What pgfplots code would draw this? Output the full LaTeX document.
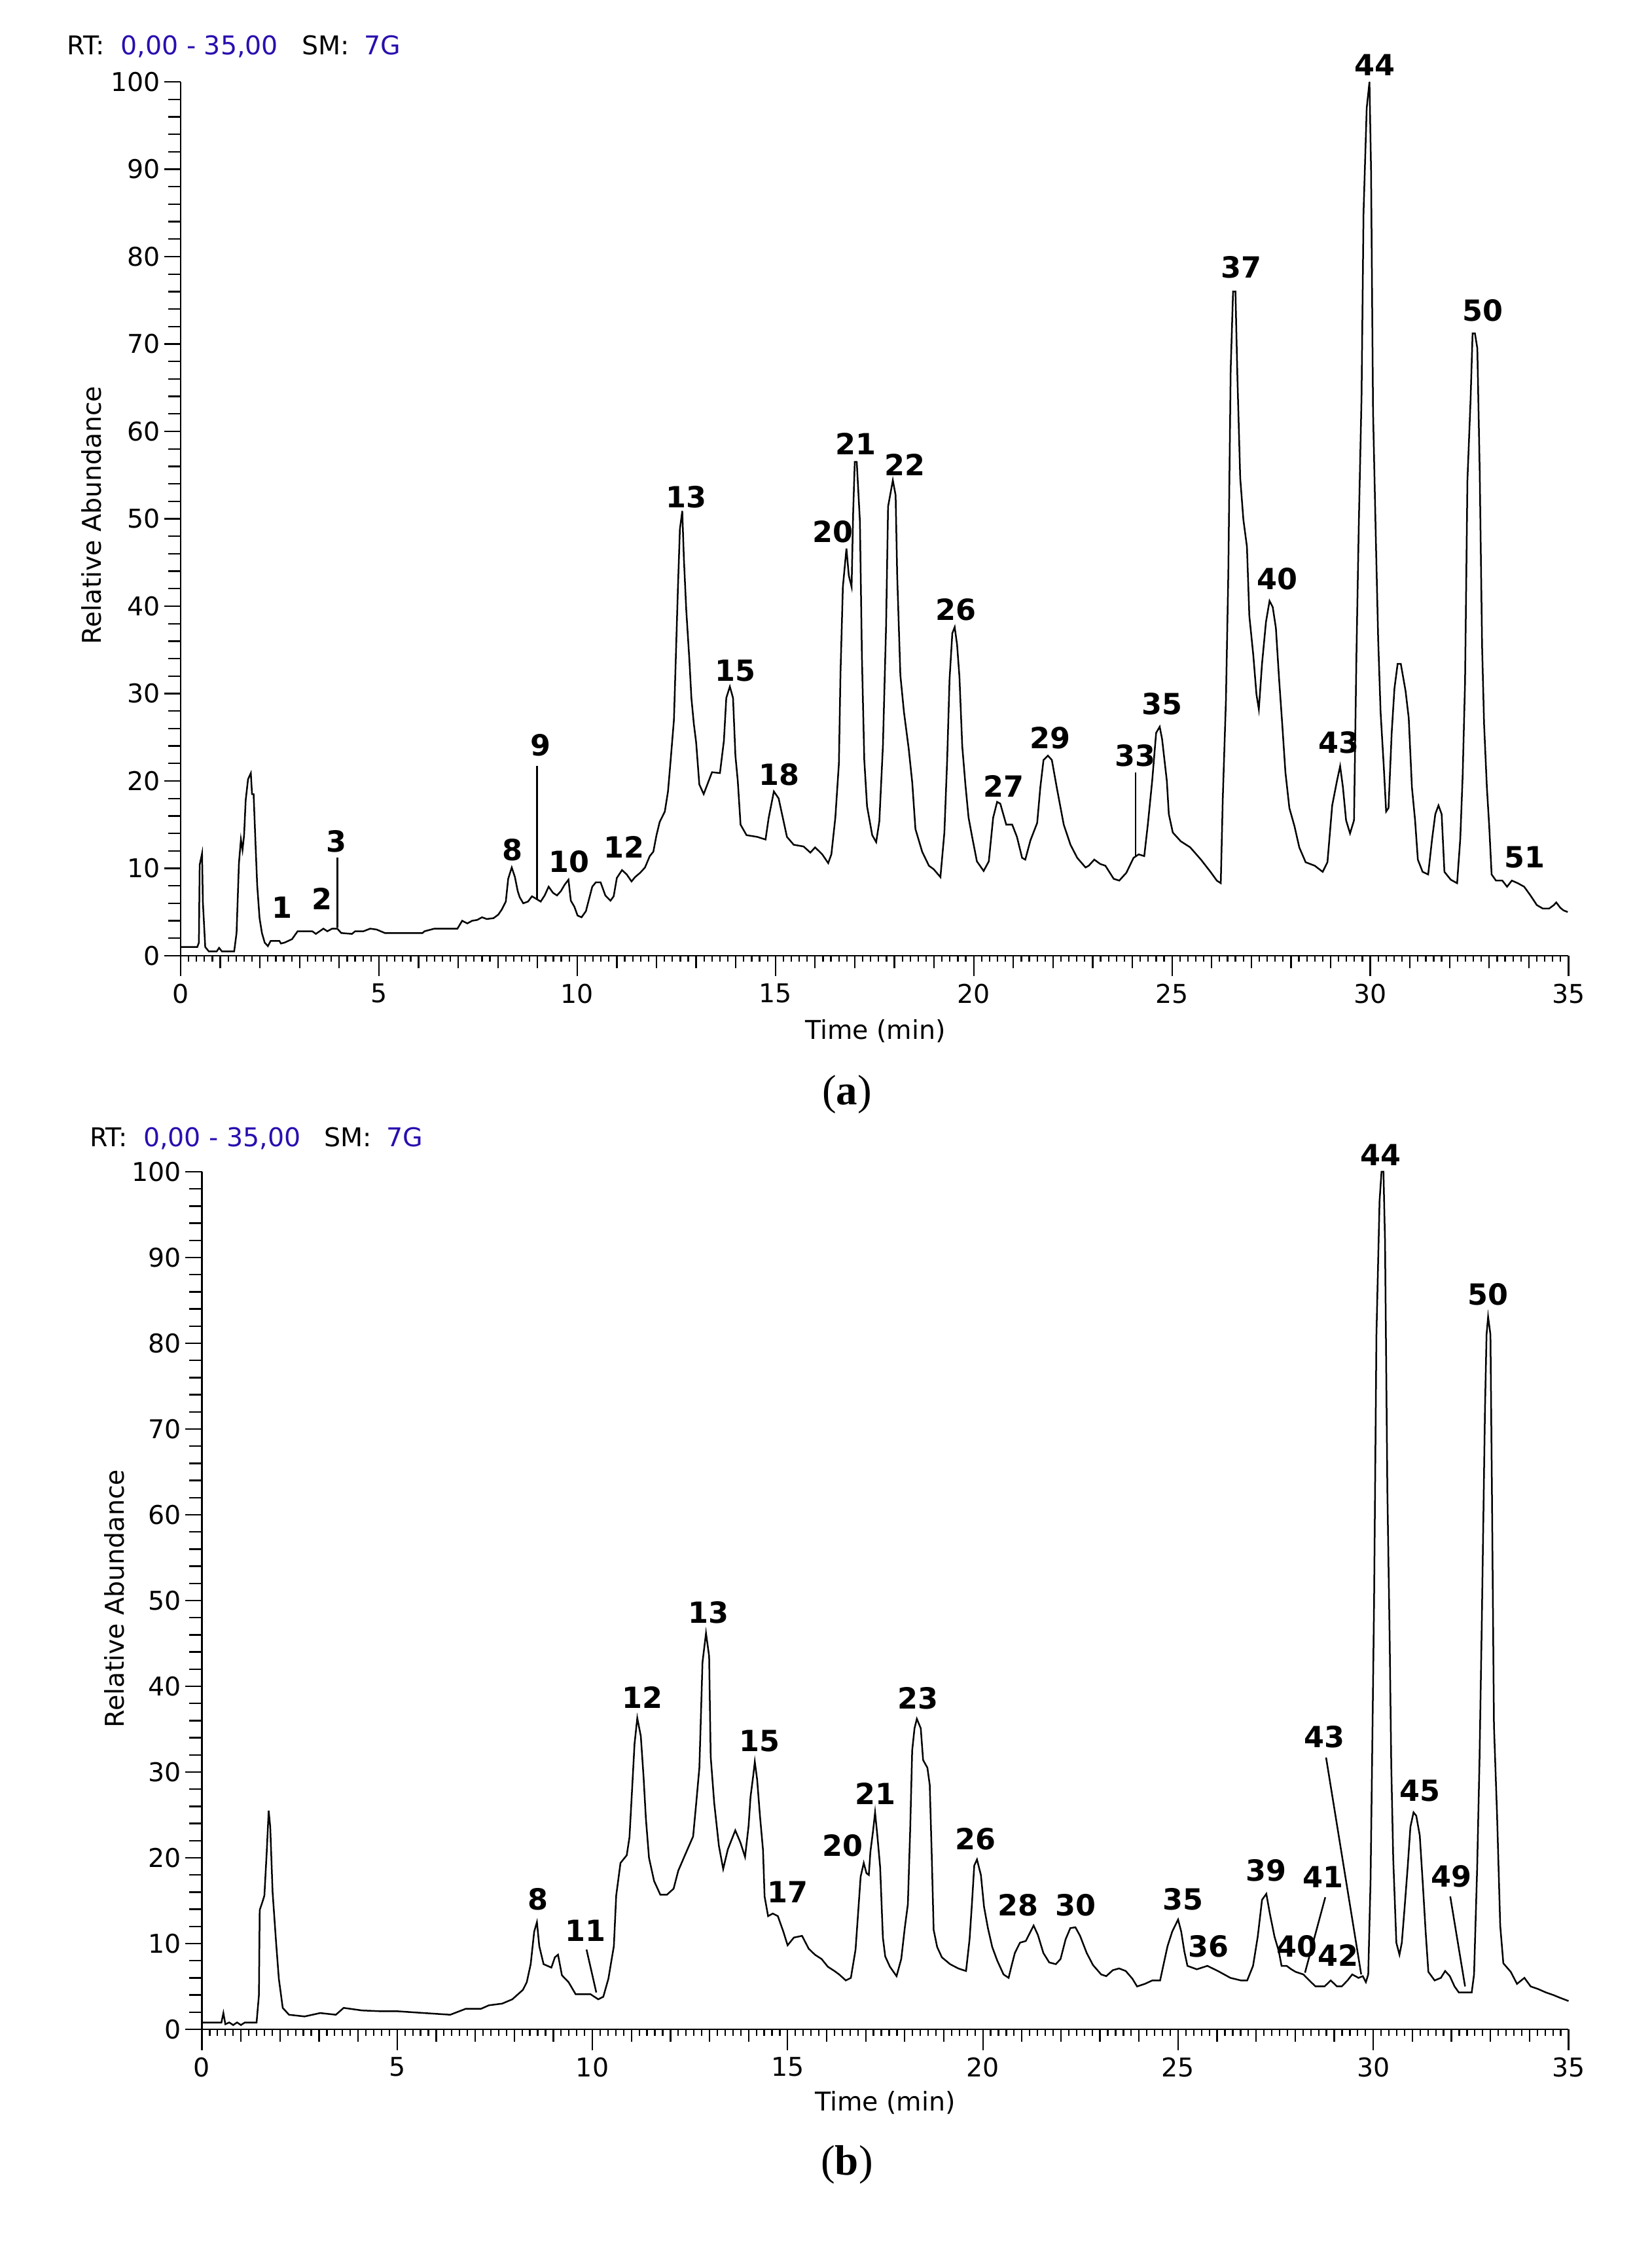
\documentclass[border=0pt]{standalone}
\usepackage{fontspec}
\setmainfont{DejaVu Sans}
\newfontfamily\capfont{Liberation Serif}
\usepackage{pgfplots}
\pgfplotsset{compat=1.18}
\definecolor{rtblue}{RGB}{40,15,175}

\pgfplotstableread{
x y
0 1.0
0.42 1.0
0.46 1.5
0.48 10.4
0.54 11.7
0.56 6.2
0.62 1.0
0.71 0.5
0.91 0.5
0.97 0.9
1.04 0.5
1.35 0.5
1.41 2.6
1.47 10.6
1.52 13.3
1.56 12.1
1.60 13.8
1.64 17.8
1.70 20.2
1.77 20.9
1.80 18.5
1.84 18.5
1.89 12.6
1.93 8.1
1.99 4.3
2.05 2.6
2.12 1.5
2.20 1.1
2.27 1.7
2.49 1.7
2.53 1.4
2.62 1.5
2.81 1.9
2.95 2.8
3.32 2.8
3.41 2.5
3.60 3.1
3.70 2.8
3.82 3.1
3.95 3.1
4.05 2.6
4.32 2.5
4.40 2.8
4.61 2.8
4.78 3.1
4.94 3.0
5.15 2.6
6.10 2.6
6.15 2.8
6.40 3.1
6.98 3.1
7.10 4.0
7.23 3.7
7.35 4.0
7.48 4.1
7.60 4.4
7.72 4.2
7.89 4.3
8.01 4.7
8.10 5.3
8.20 6.2
8.26 8.8
8.35 10.1
8.43 9.0
8.50 7.4
8.55 6.7
8.64 6.0
8.76 6.2
8.86 6.8
8.97 6.5
9.08 6.2
9.18 6.9
9.28 7.9
9.39 7.2
9.49 6.9
9.59 7.4
9.68 8.1
9.78 8.7
9.84 6.3
9.93 5.6
10.01 4.6
10.11 4.4
10.22 5.1
10.30 6.5
10.38 7.9
10.47 8.4
10.59 8.4
10.71 6.9
10.84 6.3
10.92 6.8
11.00 8.9
11.13 9.8
11.25 9.3
11.37 8.5
11.46 9.0
11.59 9.5
11.71 10.1
11.83 11.4
11.92 11.9
12.00 13.8
12.08 15.3
12.21 16.5
12.29 18.8
12.35 22
12.44 27
12.48 33
12.54 42
12.59 48.8
12.65 50.9
12.69 45.5
12.75 39.6
12.83 33.8
12.88 29.5
12.94 26.6
13.00 24.4
13.08 19.6
13.19 18.5
13.40 21
13.60 20.9
13.70 24.6
13.76 29.5
13.85 30.8
13.93 29.5
13.99 22.9
14.05 20
14.12 15
14.27 13.8
14.54 13.6
14.75 13.3
14.83 15.8
14.96 18.8
15.08 18
15.29 13.6
15.46 12.7
15.71 12.5
15.88 11.8
16.00 12.4
16.18 11.6
16.33 10.6
16.41 11.6
16.51 15.8
16.60 22
16.64 32.3
16.70 42.2
16.79 46.6
16.85 43.5
16.92 42.2
16.96 50.8
17.00 56.5
17.05 56.5
17.13 49.7
17.18 34.3
17.24 22.4
17.31 17.1
17.44 13.8
17.54 13
17.62 15.4
17.71 24
17.79 37.8
17.84 51.4
17.96 54.4
18.03 52.7
18.07 43.5
18.15 32.1
18.24 27.9
18.36 23.7
18.45 19.8
18.53 14.5
18.70 11.9
18.87 10.3
18.99 9.9
19.16 9
19.26 14.1
19.33 22.4
19.39 31.6
19.46 36.9
19.52 37.6
19.58 35.6
19.64 31.9
19.71 24
19.79 19.6
19.87 15.8
19.96 13.6
20.08 10.8
20.25 9.7
20.38 10.8
20.49 15.8
20.59 17.6
20.67 17.4
20.82 15
20.97 15
21.09 13.6
21.22 11.2
21.30 11
21.43 13.2
21.60 15.2
21.68 19.3
21.76 22.4
21.87 22.9
21.97 22.4
22.10 19.1
22.27 15
22.44 12.7
22.61 11.2
22.82 10.1
22.90 10.3
23.04 11
23.19 10.5
23.32 10.3
23.53 8.8
23.67 8.6
23.85 9.5
24.03 11.2
24.16 11.6
24.30 11.4
24.39 15
24.50 20
24.60 25.5
24.69 26.2
24.75 24.8
24.87 20
24.92 16.2
25.02 14.1
25.22 13.1
25.46 12.4
25.73 11
25.97 9.6
26.13 8.6
26.23 8.3
26.28 17.9
26.36 29.2
26.42 43.7
26.48 67.1
26.54 76
26.60 76
26.65 66.1
26.72 54.7
26.80 49.9
26.89 46.8
26.95 38.9
27.05 34.4
27.13 29.9
27.19 28.2
27.27 33.4
27.37 38.2
27.46 40.6
27.54 39.9
27.62 37.5
27.70 31.7
27.78 26.5
27.86 21
27.96 16.9
28.09 14.8
28.21 12.4
28.37 10.7
28.60 10.3
28.80 9.6
28.92 10.7
29.04 17.2
29.16 20
29.24 21.7
29.31 19.3
29.39 15.5
29.49 14
29.59 15.5
29.65 34.1
29.71 49.2
29.78 64
29.83 85
29.91 97
29.98 100
30.02 89.8
30.07 62.3
30.14 47.8
30.20 36.1
30.26 27.9
30.34 21.7
30.40 16.5
30.46 16.9
30.54 25.5
30.61 30.6
30.69 33.4
30.77 33.4
30.89 30.3
30.97 27.2
31.05 19.3
31.13 15.5
31.20 11
31.32 9.6
31.46 9.3
31.56 13.4
31.64 16.2
31.72 17.2
31.80 16.2
31.87 9.6
32.03 8.7
32.19 8.3
32.27 13.4
32.33 20.6
32.39 31.3
32.45 54.4
32.53 63.7
32.58 71.2
32.64 71.2
32.70 69.5
32.76 55.4
32.82 35.4
32.87 26.5
32.94 19.3
33.00 14.8
33.06 9.3
33.17 8.6
33.33 8.6
33.45 7.9
33.57 8.6
33.72 8.3
33.88 7.9
34.04 6.9
34.20 5.8
34.35 5.4
34.51 5.4
34.63 5.8
34.69 6.1
34.79 5.5
34.87 5.2
34.98 5.0
}\topdata

\pgfplotstableread{
x y
0 0.8
0.50 0.8
0.55 1.9
0.60 0.6
0.70 0.8
0.80 0.5
0.90 0.8
1.00 0.5
1.10 0.8
1.40 0.8
1.46 4
1.48 13.9
1.56 15
1.60 15.6
1.66 20.7
1.71 25.5
1.75 23.6
1.81 16
1.90 10.1
1.97 5.9
2.07 2.5
2.23 1.7
2.63 1.5
3.03 1.9
3.43 1.7
3.63 2.5
4.10 2.2
4.63 2.1
5.03 2.1
5.69 1.9
6.36 1.7
6.76 2.4
7.15 2.4
7.35 2.8
7.69 3.0
7.95 3.5
8.22 4.6
8.32 5.5
8.42 7.6
8.51 11.4
8.58 12.5
8.64 9.7
8.75 7.6
8.95 7.2
9.04 8.4
9.12 8.7
9.22 6.3
9.39 5.5
9.57 4.1
9.95 4.1
10.15 3.5
10.28 3.8
10.41 5.9
10.55 9.7
10.61 15.6
10.72 19.4
10.88 20.3
10.95 22.4
11.01 27.4
11.08 33.3
11.15 36.3
11.24 34.2
11.31 29.5
11.37 24.6
11.45 20
11.58 17.3
11.74 15.7
11.91 15.7
12.08 16.4
12.20 18.5
12.37 20.3
12.58 22.5
12.66 26.4
12.74 30.5
12.78 36.6
12.82 42.8
12.91 46.2
12.99 43.5
13.03 31.8
13.12 26.4
13.24 21.4
13.35 18.7
13.47 21
13.66 23.2
13.79 21.8
13.91 20.1
14.00 23.7
14.05 27.1
14.12 29.6
14.16 31.2
14.22 29.1
14.29 25
14.37 20.9
14.41 15.5
14.50 13.2
14.62 13.5
14.75 13.2
14.89 11.4
15.00 9.8
15.16 10.7
15.37 10.9
15.54 9.4
15.70 8.7
15.87 8.2
16.03 7.3
16.20 6.8
16.32 6.4
16.49 5.7
16.62 6
16.74 9.3
16.80 13.2
16.87 17.8
16.95 19.4
17.02 18.2
17.08 18
17.12 20.7
17.19 23.2
17.24 25.3
17.30 22.5
17.37 18.9
17.44 10.7
17.50 8.5
17.62 7.3
17.79 6.2
17.91 8.2
18.00 11.8
18.08 14.6
18.14 23.4
18.19 32.5
18.25 35.1
18.31 36.2
18.41 35.1
18.47 31.4
18.58 30.5
18.64 28.5
18.69 20.5
18.74 11.6
18.83 9.6
18.95 8.4
19.16 7.6
19.37 7.1
19.57 6.8
19.66 10.5
19.72 14.6
19.78 19.1
19.85 19.8
19.95 18
20.03 14.3
20.13 11.8
20.24 9.6
20.37 8
20.53 6.4
20.66 6
20.74 7.5
20.82 8.9
20.95 10.1
21.10 10.3
21.20 11.2
21.30 12.1
21.41 11
21.55 8.9
21.70 7.8
21.87 7.6
21.99 8.2
22.12 10.5
22.24 11.8
22.37 11.9
22.49 10.9
22.66 8.9
22.82 7.5
23.03 6.4
23.16 6.2
23.33 6.9
23.49 7.1
23.66 6.8
23.83 5.9
23.95 5
24.15 5.3
24.34 5.7
24.54 5.7
24.62 7.4
24.73 9.7
24.85 11.4
25.00 12.8
25.08 11.4
25.16 9.1
25.24 7.4
25.48 7.0
25.75 7.4
26.02 6.8
26.34 6.0
26.61 5.7
26.77 5.7
26.92 7.4
27.04 10.8
27.15 15.1
27.26 15.8
27.35 13.5
27.47 10.8
27.58 9.1
27.65 7.4
27.78 7.4
27.90 7.0
28.01 6.7
28.21 6.4
28.36 5.7
28.52 5.0
28.75 5.0
28.91 5.7
29.07 5.0
29.19 5.0
29.34 5.7
29.46 6.4
29.62 6.0
29.73 6.2
29.81 5.5
29.87 6.4
29.93 17.5
29.97 31.7
30.02 50
30.08 81
30.16 96.6
30.21 100
30.26 100
30.30 91.9
30.36 62.8
30.42 45.2
30.46 30.7
30.51 19.9
30.59 10.1
30.67 8.7
30.73 10.1
30.80 14.1
30.88 18.9
30.95 23.6
31.03 25.3
31.10 24.9
31.19 22.6
31.27 16.8
31.34 11.4
31.41 6.7
31.57 5.7
31.73 6.0
31.84 6.8
31.96 6.2
32.08 5.0
32.19 4.3
32.39 4.3
32.52 4.3
32.58 6.4
32.66 18.9
32.72 31.4
32.78 47.9
32.82 60.1
32.86 72.3
32.90 81
32.94 83.1
33.00 81
33.04 61.8
33.09 35.4
33.17 24.9
33.25 12.1
33.33 7.7
33.52 6.7
33.68 5.3
33.87 6.0
34.03 5.0
34.22 4.7
34.42 4.3
34.61 4.0
34.77 3.7
35.00 3.3
}\botdata

\pgfplotsset{
  trace/.style={black, line width=0.5pt, no marks},
  chrom/.style={
    scale only axis,
    axis lines=left,
    axis line style={-, line width=0.55pt},
    xmin=0, xmax=35, ymin=0, ymax=100,
    xtick={0,1,...,35},
    xticklabels={0,,,,,5,,,,,10,,,,,15,,,,,20,,,,,25,,,,,30,,,,,35},
    ytick={0,2,...,100},
    yticklabels={0,,,,,10,,,,,20,,,,,30,,,,,40,,,,,50,,,,,60,,,,,70,,,,,80,,,,,90,,,,,100},
    minor x tick num=4, minor y tick num=0,
    extra x ticks={0,5,10,15,20,25,30,35},
    extra x tick labels={},
    extra x tick style={major tick length=6.3pt},
    extra y ticks={0,10,20,30,40,50,60,70,80,90,100},
    extra y tick labels={},
    extra y tick style={major tick length=5pt},
    tick align=outside,
    major tick length=3.8pt, minor tick length=1.9pt,
    tick style={black, line width=0.45pt},
    ticklabel style={font=\fontsize{7.9}{9}\selectfont},
    yticklabel style={inner sep=0pt, xshift=-2.3pt},
    xticklabel style={inner sep=0pt, yshift=-4.6pt},
    /pgf/number format/assume math mode=true,
    clip=false,
  },
}
\tikzset{lab/.style={font=\bfseries\fontsize{8.9}{10}\selectfont, inner sep=0pt}}

\begin{document}
\begin{tikzpicture}[x=1pt,y=1pt]

% ---------- (a) ----------
\begin{axis}[chrom, at={(55.2pt,394.2pt)}, anchor=south west, width=424.1pt, height=267pt]
\addplot[trace] table[x=x,y=y] {\topdata};
\draw[line width=0.5pt] (axis cs:3.95,3.2) -- (axis cs:3.95,11.2);
\draw[line width=0.5pt] (axis cs:8.99,6.5) -- (axis cs:8.99,21.7);
\draw[line width=0.5pt] (axis cs:24.08,11.4) -- (axis cs:24.08,21.0);
\node[lab] at (axis cs:2.56,5.5) {1};
\node[lab] at (axis cs:3.56,6.5) {2};
\node[lab] at (axis cs:3.92,13.1) {3};
\node[lab] at (axis cs:8.37,12.1) {8};
\node[lab] at (axis cs:9.08,24.1) {9};
\node[lab] at (axis cs:9.79,10.8) {10};
\node[lab] at (axis cs:11.18,12.4) {12};
\node[lab] at (axis cs:12.75,52.5) {13};
\node[lab] at (axis cs:13.99,32.6) {15};
\node[lab] at (axis cs:15.1,20.7) {18};
\node[lab] at (axis cs:16.45,48.5) {20};
\node[lab] at (axis cs:17.02,58.6) {21};
\node[lab] at (axis cs:18.27,56.2) {22};
\node[lab] at (axis cs:19.55,39.6) {26};
\node[lab] at (axis cs:20.76,19.4) {27};
\node[lab] at (axis cs:21.93,24.9) {29};
\node[lab] at (axis cs:24.07,22.9) {33};
\node[lab] at (axis cs:24.75,28.8) {35};
\node[lab] at (axis cs:26.74,78.8) {37};
\node[lab] at (axis cs:27.66,43.1) {40};
\node[lab] at (axis cs:29.2,24.4) {43};
\node[lab] at (axis cs:30.12,101.9) {44};
\node[lab] at (axis cs:32.83,73.8) {50};
\node[lab] at (axis cs:33.9,11.3) {51};
\end{axis}

% ---------- (b) ----------
\begin{axis}[chrom, at={(61.7pt,66.2pt)}, anchor=south west, width=417.6pt, height=262pt]
\addplot[trace] table[x=x,y=y] {\botdata};
\draw[line width=0.5pt] (axis cs:9.85,9.3) -- (axis cs:10.1,4.3);
\draw[line width=0.5pt] (axis cs:28.79,31.7) -- (axis cs:29.69,6.4);
\draw[line width=0.5pt] (axis cs:28.77,15.4) -- (axis cs:28.25,6.6);
\draw[line width=0.5pt] (axis cs:31.97,15.5) -- (axis cs:32.35,5.0);
\node[lab] at (axis cs:8.6,15.2) {8};
\node[lab] at (axis cs:9.83,11.5) {11};
\node[lab] at (axis cs:11.28,38.7) {12};
\node[lab] at (axis cs:12.98,48.6) {13};
\node[lab] at (axis cs:14.28,33.6) {15};
\node[lab] at (axis cs:15.0,16) {17};
\node[lab] at (axis cs:16.41,21.4) {20};
\node[lab] at (axis cs:17.25,27.5) {21};
\node[lab] at (axis cs:18.33,38.6) {23};
\node[lab] at (axis cs:19.81,22.2) {26};
\node[lab] at (axis cs:20.9,14.5) {28};
\node[lab] at (axis cs:22.38,14.5) {30};
\node[lab] at (axis cs:25.13,15.2) {35};
\node[lab] at (axis cs:25.78,9.7) {36};
\node[lab] at (axis cs:27.26,18.5) {39};
\node[lab] at (axis cs:28.05,9.7) {40};
\node[lab] at (axis cs:28.71,17.8) {41};
\node[lab] at (axis cs:29.1,8.6) {42};
\node[lab] at (axis cs:28.74,34.1) {43};
\node[lab] at (axis cs:30.19,102) {44};
\node[lab] at (axis cs:31.2,27.8) {45};
\node[lab] at (axis cs:32.0,17.8) {49};
\node[lab] at (axis cs:32.94,85.7) {50};
\end{axis}

% ---------- texts ----------
\begin{scope}[every node/.style={inner sep=0pt, font=\fontsize{7.9}{9}\selectfont}]
\node[anchor=west] at (20.3,672) {RT:\hspace{4.9pt}\textcolor{rtblue}{0,00 - 35,00}\hspace{7.2pt}SM:\hspace{4.5pt}\textcolor{rtblue}{7G}};
\node[rotate=90] at (28,528.8) {Relative Abundance};
\node at (267.5,371.2) {Time (min)};
\node[anchor=west] at (27.2,338.4) {RT:\hspace{4.9pt}\textcolor{rtblue}{0,00 - 35,00}\hspace{7.2pt}SM:\hspace{4.5pt}\textcolor{rtblue}{7G}};
\node[rotate=90] at (35,197.8) {Relative Abundance};
\node at (270.5,43.8) {Time (min)};
\end{scope}
\node[inner sep=0pt, font=\capfont\fontsize{13}{15}\selectfont] at (258.8,351.8) {(\textbf{a})};
\node[inner sep=0pt, font=\capfont\fontsize{13}{15}\selectfont] at (258.8,24.8) {(\textbf{b})};

\pgfresetboundingbox
\path[use as bounding box] (0,0) rectangle (504.8,686.2);
\end{tikzpicture}
\end{document}
